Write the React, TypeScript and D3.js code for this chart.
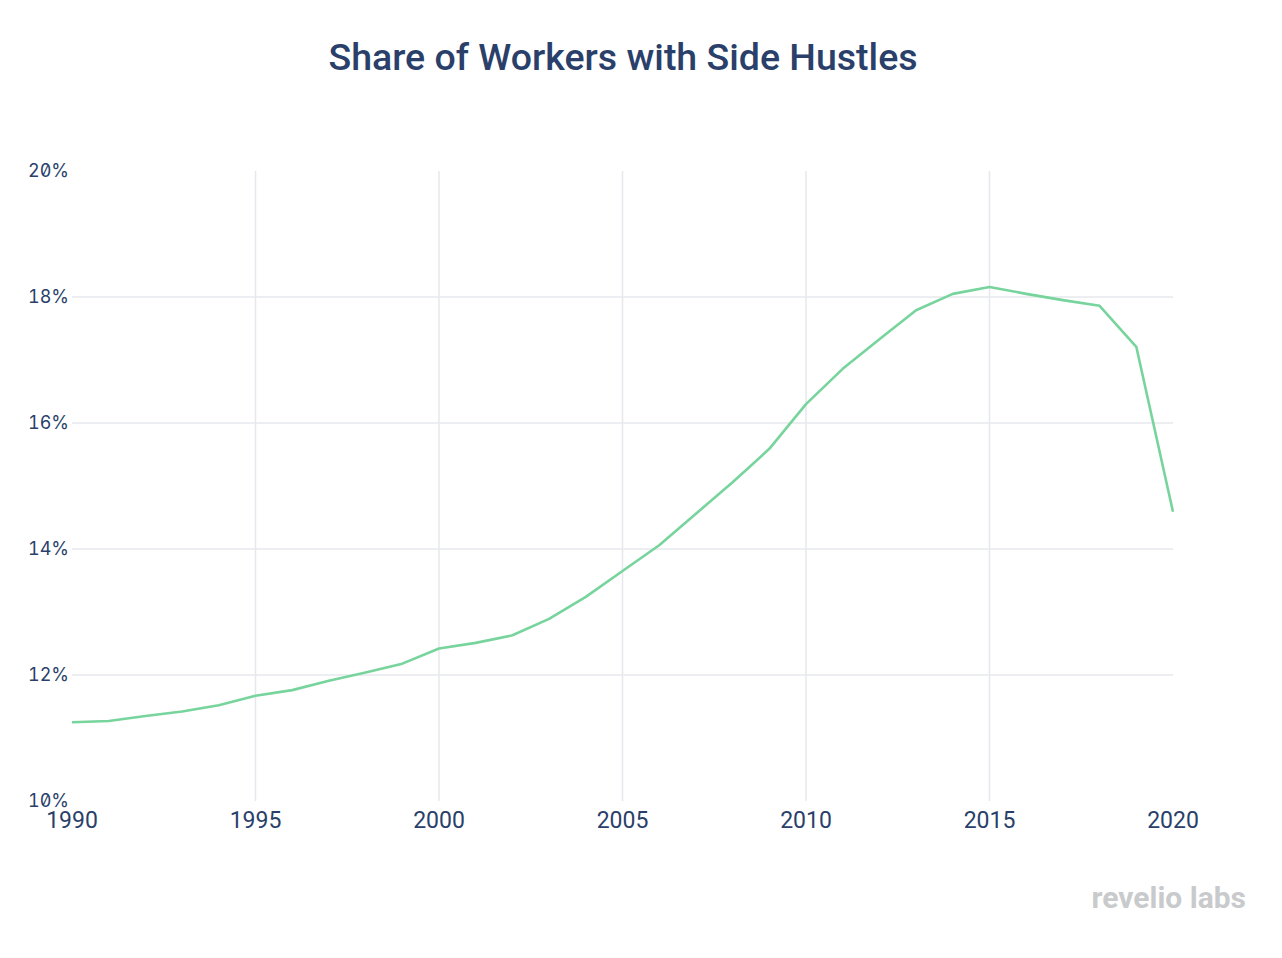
import React from "react";
import * as d3 from "d3";

const years: number[] = [
  1990, 1991, 1992, 1993, 1994, 1995, 1996, 1997, 1998, 1999,
  2000, 2001, 2002, 2003, 2004, 2005, 2006, 2007, 2008, 2009,
  2010, 2011, 2012, 2013, 2014, 2015, 2016, 2017, 2018, 2019, 2020,
];
const sharePct: number[] = [
  11.25, 11.27, 11.35, 11.42, 11.52, 11.67, 11.76, 11.91, 12.04, 12.18,
  12.42, 12.51, 12.63, 12.89, 13.24, 13.65, 14.06, 14.56, 15.06, 15.59,
  16.3, 16.86, 17.33, 17.79, 18.05, 18.16, 18.05, 17.95, 17.86, 17.21, 14.59,
];
const xTicks: number[] = [1990, 1995, 2000, 2005, 2010, 2015, 2020];
const yTicks: number[] = [10, 12, 14, 16, 18, 20];

const W = 1282;
const H = 958;
const M = { left: 72, right: 1173, top: 171, bottom: 801 };
const TEXT = "#2a3f6a";
const GRID = "#e6e8ee";
const LINE = "#77d49c";

export default function App() {
  const x = d3.scaleLinear().domain([1990, 2020]).range([M.left, M.right]);
  const y = d3.scaleLinear().domain([10, 20]).range([M.bottom, M.top]);
  const pts = years.map((yr, i) => [yr, sharePct[i]] as [number, number]);
  const path = d3
    .line<[number, number]>()
    .x((d) => x(d[0]))
    .y((d) => y(d[1]))(pts) as string;

  return (
    <svg
      width={W}
      height={H}
      style={{ position: "absolute", left: 0, top: 0, background: "#fff" }}
    >
      <text
        x={623}
        y={70}
        textAnchor="middle"
        fill={TEXT}
        style={{ fontFamily: "Roboto", fontWeight: 500, fontSize: 37.5 }}
      >
        Share of Workers with Side Hustles
      </text>

      {/* vertical gridlines */}
      {xTicks
        .filter((t) => t !== 1990 && t !== 2020)
        .map((t) => (
          <line
            key={"vx" + t}
            x1={x(t)}
            x2={x(t)}
            y1={y(20)}
            y2={y(10)}
            stroke={GRID}
            strokeWidth={1.5}
          />
        ))}
      {/* horizontal gridlines */}
      {yTicks
        .filter((t) => t !== 10 && t !== 20)
        .map((t) => (
          <line
            key={"hy" + t}
            x1={M.left}
            x2={M.right}
            y1={y(t)}
            y2={y(t)}
            stroke={GRID}
            strokeWidth={1.5}
          />
        ))}

      {/* y labels */}
      {yTicks.map((t) => (
        <text
          key={"yl" + t}
          x={69}
          y={y(t)}
          dy="0.36em"
          textAnchor="end"
          fill={TEXT}
          style={{
            fontFamily: "Inter",
            fontSize: 18,
            fontFeatureSettings: '"zero" 1, "tnum" 1',
          }}
        >
          {t}%
        </text>
      ))}

      {/* x labels */}
      {xTicks.map((t) => (
        <text
          key={"xl" + t}
          x={x(t)}
          y={828}
          textAnchor="middle"
          fill={TEXT}
          style={{ fontFamily: "Roboto", fontSize: 23 }}
        >
          {t}
        </text>
      ))}

      <path d={path} fill="none" stroke={LINE} strokeWidth={2.6} strokeLinejoin="round" />

      <text
        x={1246}
        y={908}
        textAnchor="end"
        fill="#c9cacc"
        style={{ fontFamily: "Roboto", fontWeight: 700, fontSize: 30 }}
      >
        revelio labs
      </text>
    </svg>
  );
}
